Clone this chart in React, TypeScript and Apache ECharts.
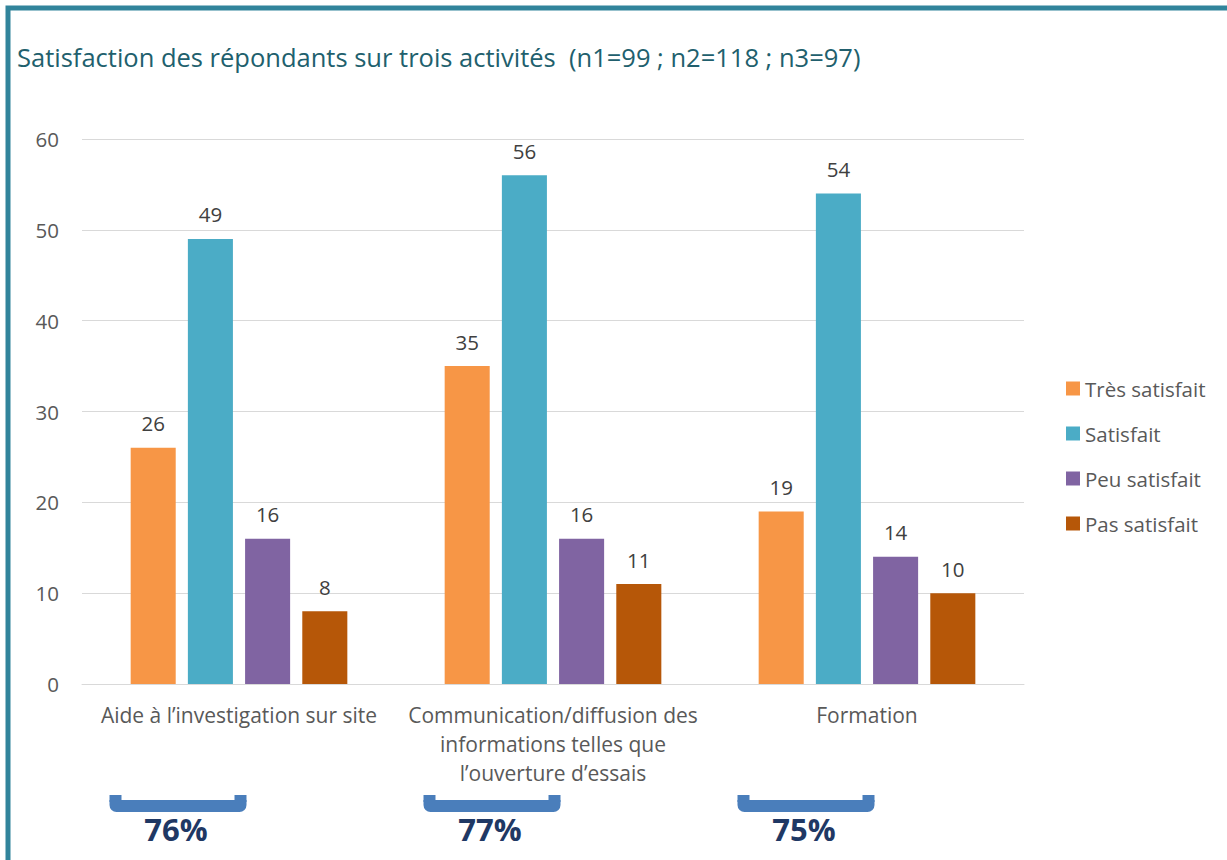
import React, { useEffect, useRef } from "react";
import * as echarts from "echarts";

const categories = [
  "Aide à l’investigation sur site",
  "Communication/diffusion des\ninformations telles que\nl’ouverture d’essais",
  "Formation",
];
const seriesNames = ["Très satisfait", "Satisfait", "Peu satisfait", "Pas satisfait"];
const tresSatisfait = [26, 35, 19];
const satisfait = [49, 56, 54];
const peuSatisfait = [16, 16, 14];
const pasSatisfait = [8, 11, 10];
const globalSatisfaction = [76, 77, 75];
const yTicks = { min: 0, max: 60, interval: 10 };

const colors = ["#f79646", "#4bacc6", "#8064a2", "#b65708"];
const FONT = "'Open Sans', 'Noto Sans', sans-serif";

export default function App() {
  const ref = useRef<HTMLDivElement>(null);

  useEffect(() => {
    if (!ref.current) return;
    const chart = echarts.init(ref.current, null, { renderer: "svg" });
    const values = [tresSatisfait, satisfait, peuSatisfait, pasSatisfait];

    chart.setOption({
      animation: false,
      backgroundColor: "#ffffff",
      textStyle: { fontFamily: FONT },
      title: {
        text: "Satisfaction des répondants sur trois activités  (n1=99 ; n2=118 ; n3=97)",
        left: 17,
        top: 42,
        padding: 0,
        textStyle: {
          fontFamily: FONT,
          fontSize: 25.5,
          fontWeight: "normal",
          color: "#215f6d",
          lineHeight: 30,
        },
      },
      legend: {
        orient: "vertical",
        left: 1066,
        top: 378,
        padding: 0,
        itemWidth: 14,
        itemHeight: 14,
        itemGap: 24,
        icon: "rect",
        data: seriesNames,
        textStyle: { fontFamily: FONT, fontSize: 20.5, color: "#595959", lineHeight: 21 },
      },
      grid: { left: 82, right: 203, top: 139, bottom: 176, containLabel: false },
      xAxis: {
        type: "category",
        data: categories,
        axisLine: { show: true, lineStyle: { color: "#d9d9d9", width: 1 } },
        axisTick: { show: false },
        axisLabel: {
          interval: 0,
          margin: 16,
          fontFamily: FONT,
          fontSize: 21,
          lineHeight: 29,
          color: "#595959",
        },
      },
      yAxis: {
        type: "value",
        min: yTicks.min,
        max: yTicks.max,
        interval: yTicks.interval,
        axisLine: { show: false },
        axisTick: { show: false },
        splitLine: { lineStyle: { color: "#d9d9d9", width: 1 } },
        axisLabel: { margin: 23, fontFamily: FONT, fontSize: 20.5, color: "#595959" },
      },
      series: seriesNames.map((name, i) => ({
        name,
        type: "bar",
        data: values[i],
        barCategoryGap: "31%",
        barGap: "27%",
        itemStyle: { color: colors[i] },
        label: {
          show: true,
          position: "top",
          distance: 14,
          fontFamily: FONT,
          fontSize: 20.5,
          color: "#404040",
        },
      })),
    });

    const bracketOffset = -61;
    const textOffset = -63;
    const bw = 137;
    const graphics: any[] = [
      {
        type: "rect",
        shape: { x: 8, y: 8, width: 1400, height: 1000 },
        style: { fill: "none", stroke: "#31849b", lineWidth: 5 },
        silent: true,
      },
    ];
    categories.forEach((_, i) => {
      const cx = chart.convertToPixel({ xAxisIndex: 0 }, i) as number;
      const bx = cx + bracketOffset - bw / 2;
      graphics.push(
        {
          type: "rect",
          shape: { x: bx, y: 800, width: bw, height: 12, r: [0, 0, 7, 7] },
          style: { fill: "#4a7ebb" },
        },
        {
          type: "rect",
          shape: { x: bx, y: 795, width: 12, height: 7 },
          style: { fill: "#4a7ebb" },
        },
        {
          type: "rect",
          shape: { x: bx + bw - 12, y: 795, width: 12, height: 7 },
          style: { fill: "#4a7ebb" },
        },
        {
          type: "text",
          x: cx + textOffset,
          y: 829,
          style: {
            text: globalSatisfaction[i] + "%",
            fontFamily: FONT,
            fontSize: 31,
            fontWeight: "bold",
            fill: "#1f3864",
            align: "center",
            verticalAlign: "middle",
          },
        }
      );
    });
    chart.setOption({ graphic: graphics });

    return () => chart.dispose();
  }, []);

  return (
    <div
      ref={ref}
      style={{ position: "absolute", left: 0, top: 0, width: 1227, height: 860 }}
    />
  );
}
